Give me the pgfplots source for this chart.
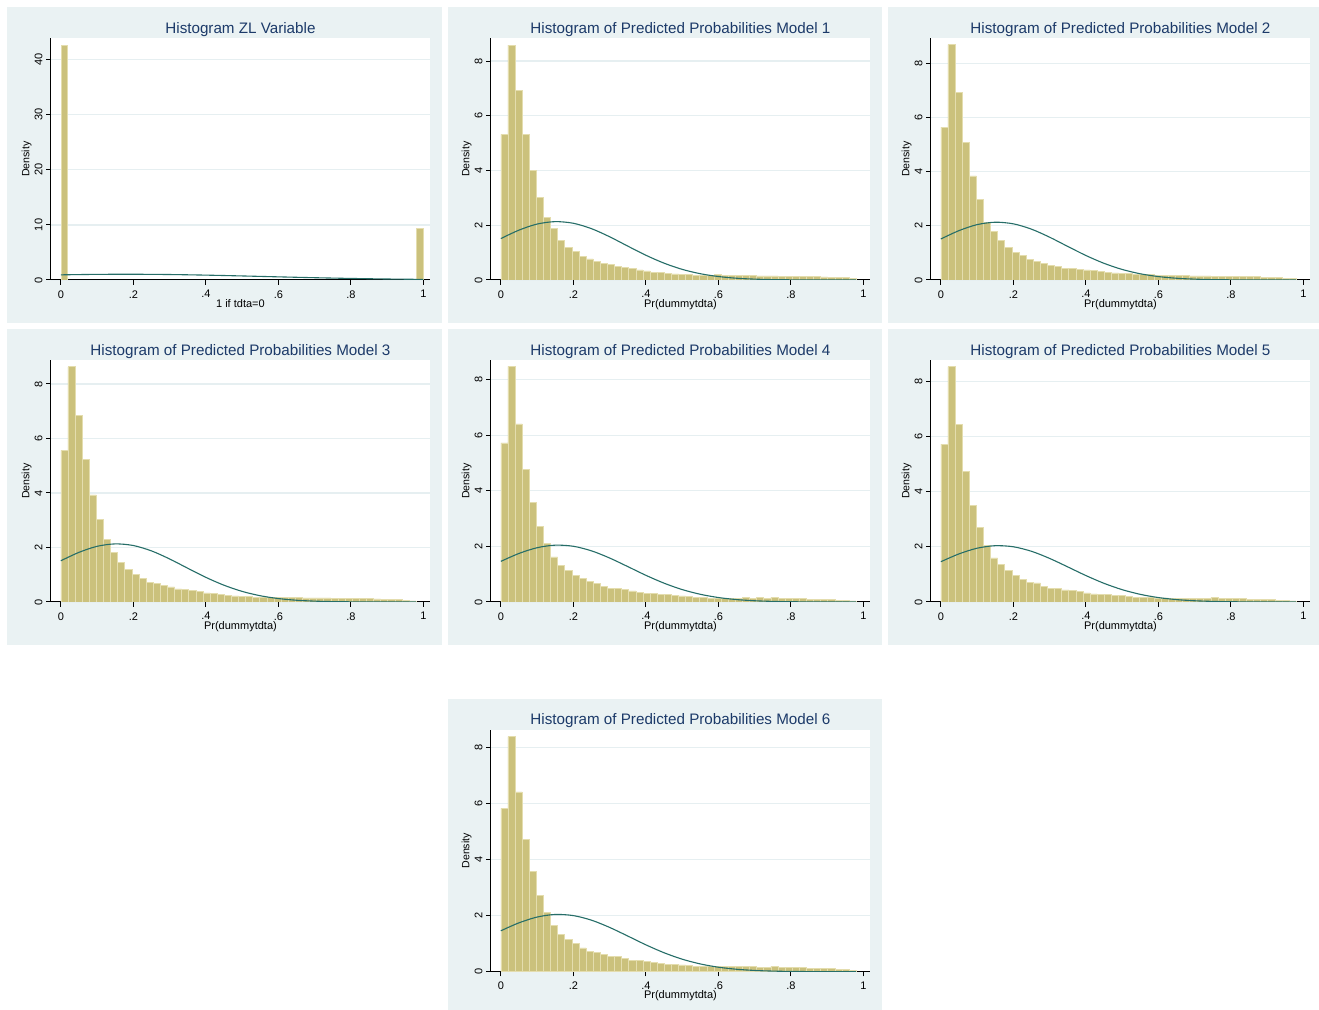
\documentclass[border=0pt]{standalone}
\usepackage{pgfplots}
\pgfplotsset{compat=1.18}
\usepackage{pgfplotstable}
\usepackage{fontspec}
\setmainfont{Liberation Sans}
\definecolor{bgc}{RGB}{234,242,243}
\definecolor{gridc}{RGB}{230,239,241}
\definecolor{barc}{RGB}{203,193,124}
\definecolor{baredge}{RGB}{228,221,174}
\definecolor{linec}{RGB}{38,110,104}
\definecolor{titlec}{RGB}{28,58,105}

\pgfplotstableread{
x      m1   m2   m3   m4   m5   m6
0      5.32 5.64 5.56 5.72 5.73 5.83
0.0196 8.58 8.69 8.63 8.47 8.54 8.39
0.0392 6.91 6.92 6.86 6.40 6.45 6.42
0.0588 5.32 5.09 5.23 4.77 4.74 4.73
0.0784 4.00 3.84 3.93 3.59 3.50 3.58
0.098  3.02 2.96 3.02 2.73 2.71 2.73
0.1176 2.30 2.11 2.30 2.12 2.05 2.12
0.1372 1.87 1.80 1.83 1.62 1.60 1.65
0.1568 1.46 1.45 1.44 1.32 1.35 1.34
0.1764 1.19 1.20 1.20 1.14 1.14 1.16
0.196  1.03 1.02 1.01 0.95 0.97 1.00
0.2156 0.85 0.90 0.88 0.85 0.82 0.85
0.2352 0.77 0.76 0.73 0.74 0.70 0.73
0.2548 0.68 0.67 0.67 0.67 0.69 0.69
0.2744 0.61 0.61 0.61 0.56 0.57 0.63
0.294  0.56 0.55 0.55 0.49 0.50 0.55
0.3136 0.50 0.50 0.48 0.49 0.50 0.53
0.3332 0.45 0.44 0.46 0.44 0.44 0.47
0.3528 0.41 0.43 0.42 0.40 0.42 0.41
0.3724 0.37 0.40 0.40 0.35 0.37 0.39
0.392  0.33 0.37 0.33 0.32 0.33 0.36
0.4116 0.29 0.34 0.32 0.30 0.29 0.32
0.4312 0.27 0.33 0.27 0.28 0.28 0.30
0.4508 0.24 0.29 0.24 0.26 0.27 0.27
0.4704 0.22 0.26 0.22 0.23 0.24 0.25
0.49   0.21 0.25 0.21 0.22 0.23 0.24
0.5096 0.20 0.23 0.20 0.19 0.21 0.21
0.5292 0.18 0.21 0.18 0.17 0.18 0.19
0.5488 0.18 0.21 0.18 0.16 0.17 0.18
0.5684 0.17 0.20 0.17 0.14 0.16 0.18
0.588  0.20 0.18 0.17 0.14 0.15 0.19
0.6076 0.18 0.17 0.16 0.13 0.15 0.19
0.6272 0.17 0.17 0.16 0.14 0.14 0.18
0.6468 0.17 0.16 0.16 0.14 0.14 0.18
0.6664 0.16 0.16 0.15 0.16 0.14 0.19
0.686  0.16 0.15 0.15 0.13 0.14 0.18
0.7056 0.15 0.15 0.15 0.16 0.13 0.15
0.7252 0.15 0.15 0.15 0.14 0.14 0.15
0.7448 0.15 0.14 0.14 0.17 0.16 0.19
0.7644 0.14 0.14 0.14 0.14 0.13 0.14
0.784  0.14 0.14 0.14 0.12 0.13 0.14
0.8036 0.14 0.13 0.13 0.13 0.12 0.14
0.8232 0.13 0.13 0.12 0.12 0.12 0.15
0.8428 0.13 0.12 0.12 0.10 0.10 0.12
0.8624 0.12 0.12 0.11 0.10 0.10 0.12
0.882  0.11 0.11 0.10 0.08 0.09 0.11
0.9016 0.10 0.10 0.09 0.08 0.08 0.11
0.9212 0.09 0.09 0.08 0.07 0.07 0.09
0.9408 0.08 0.07 0.06 0.06 0.06 0.08
0.9604 0.05 0.05 0.04 0.04 0.04 0.05
0.98   0    0    0    0    0    0
}\hist

\pgfplotsset{
  statapanel/.style={
    scale only axis, width=189.75pt, height=120.85pt,
    xmin=-0.028, xmax=1.0187, ymin=0,
    axis lines*=left,
    axis line style={-, line width=0.5pt, black},
    axis background/.style={fill=white},
    xtick={0,0.2,0.4,0.6,0.8,1}, xticklabels={0,.2,.4,.6,.8,1},
    tick align=outside, major tick length=2.35pt,
    tick style={black, line width=0.5pt},
    ymajorgrids, grid style={gridc, line width=0.6pt},
    /pgf/number format/assume math mode=true,
    xticklabel style={font=\fontsize{5.5}{6}\selectfont, anchor=north, inner sep=0pt, yshift=-2.65pt},
    yticklabel style={font=\fontsize{5.5}{6}\selectfont, inner sep=0pt, xshift=-1.85pt, rotate=90, anchor=base},
    every axis x label/.style={at={(axis description cs:0.5,0)}, anchor=base, yshift=-13.65pt, font=\fontsize{5.5}{6}\selectfont},
    every axis y label/.style={at={(axis description cs:0,0.5)}, xshift=-10.7pt, rotate=90, anchor=base, font=\fontsize{5.3}{6}\selectfont},
    every axis title/.style={at={(axis description cs:0.5,1)}, anchor=base, yshift=2.5pt, font=\fontsize{7.6}{8}\selectfont, color=titlec},
    ylabel={Density},
  },
  modelpanel/.style={statapanel, ytick={0,2,4,6,8}, yticklabels={0,2,4,6,8}, xlabel={Pr(dummytdta)}},
  histbar/.style={ybar interval, fill=barc, draw=baredge, line width=0.35pt},
  normline/.style={linec, line width=0.55pt, smooth, no marks},
}

\begin{document}
\begin{tikzpicture}
% panel backgrounds
\fill[bgc] (3.35pt,343.35pt) rectangle (220.85pt,501.35pt);
\fill[bgc] (223.85pt,343.35pt) rectangle (440.85pt,501.35pt);
\fill[bgc] (444pt,343.35pt) rectangle (659.5pt,501.35pt);
\fill[bgc] (3.35pt,182.35pt) rectangle (220.85pt,340.35pt);
\fill[bgc] (223.85pt,182.35pt) rectangle (440.85pt,340.35pt);
\fill[bgc] (444pt,182.35pt) rectangle (659.5pt,340.35pt);
\fill[bgc] (223.85pt,0pt) rectangle (440.85pt,155.7pt);

% ZL panel
\begin{axis}[statapanel, at={(25.35pt,365pt)}, anchor=south west,
  ymax=43.9, ytick={0,10,20,30,40}, yticklabels={0,10,20,30,40},
  title={Histogram ZL Variable}, xlabel={1 if tdta=0}]
\addplot[histbar] coordinates {(0,42.7) (0.0192,0)};
\addplot[histbar] coordinates {(0.9808,9.3) (1,0)};
\addplot[normline] coordinates {(0,0.934) (0.1,1.020) (0.2,1.040) (0.3,0.991) (0.4,0.882) (0.5,0.733) (0.6,0.569) (0.7,0.413) (0.8,0.280) (0.9,0.177) (1,0.105)};
\end{axis}

% Model 1
\begin{axis}[modelpanel, at={(245.35pt,365pt)}, anchor=south west, ymax=8.83,
  title={Histogram of Predicted Probabilities Model 1}]
\addplot[histbar] table[x=x,y=m1]{\hist};
\addplot[normline] coordinates {(0,1.513) (0.05,1.822) (0.1,2.043) (0.15,2.132) (0.2,2.072) (0.25,1.875) (0.3,1.579) (0.35,1.238) (0.4,0.904) (0.45,0.615) (0.5,0.389) (0.55,0.229) (0.6,0.126) (0.65,0.064) (0.7,0.031) (0.75,0.014) (0.8,0.006) (0.85,0.002) (0.9,0.001) (0.98,0.0002)};
\end{axis}

% Model 2
\begin{axis}[modelpanel, at={(465.35pt,365pt)}, anchor=south west, ymax=8.92,
  title={Histogram of Predicted Probabilities Model 2}]
\addplot[histbar] table[x=x,y=m2]{\hist};
\addplot[normline] coordinates {(0,1.513) (0.05,1.822) (0.1,2.043) (0.15,2.132) (0.2,2.072) (0.25,1.875) (0.3,1.579) (0.35,1.238) (0.4,0.904) (0.45,0.615) (0.5,0.389) (0.55,0.229) (0.6,0.126) (0.65,0.064) (0.7,0.031) (0.75,0.014) (0.8,0.006) (0.85,0.002) (0.9,0.001) (0.98,0.0002)};
\end{axis}

% Model 3
\begin{axis}[modelpanel, at={(25.35pt,204pt)}, anchor=south west, ymax=8.87,
  title={Histogram of Predicted Probabilities Model 3}]
\addplot[histbar] table[x=x,y=m3]{\hist};
\addplot[normline] coordinates {(0,1.513) (0.05,1.822) (0.1,2.043) (0.15,2.132) (0.2,2.072) (0.25,1.875) (0.3,1.579) (0.35,1.238) (0.4,0.904) (0.45,0.615) (0.5,0.389) (0.55,0.229) (0.6,0.126) (0.65,0.064) (0.7,0.031) (0.75,0.014) (0.8,0.006) (0.85,0.002) (0.9,0.001) (0.98,0.0002)};
\end{axis}

% Model 4
\begin{axis}[modelpanel, at={(245.35pt,204pt)}, anchor=south west, ymax=8.69,
  title={Histogram of Predicted Probabilities Model 4}]
\addplot[histbar] table[x=x,y=m4]{\hist};
\addplot[normline] coordinates {(0,1.461) (0.05,1.745) (0.1,1.951) (0.15,2.043) (0.2,2.003) (0.25,1.839) (0.3,1.581) (0.35,1.273) (0.4,0.959) (0.45,0.677) (0.5,0.447) (0.55,0.277) (0.6,0.160) (0.65,0.087) (0.7,0.044) (0.75,0.021) (0.8,0.009) (0.85,0.004) (0.9,0.0015) (0.98,0.0003)};
\end{axis}

% Model 5
\begin{axis}[modelpanel, at={(465.35pt,204pt)}, anchor=south west, ymax=8.77,
  title={Histogram of Predicted Probabilities Model 5}]
\addplot[histbar] table[x=x,y=m5]{\hist};
\addplot[normline] coordinates {(0,1.461) (0.05,1.745) (0.1,1.951) (0.15,2.043) (0.2,2.003) (0.25,1.839) (0.3,1.581) (0.35,1.273) (0.4,0.959) (0.45,0.677) (0.5,0.447) (0.55,0.277) (0.6,0.160) (0.65,0.087) (0.7,0.044) (0.75,0.021) (0.8,0.009) (0.85,0.004) (0.9,0.0015) (0.98,0.0003)};
\end{axis}

% Model 6
\begin{axis}[modelpanel, at={(245.35pt,19.15pt)}, anchor=south west, ymax=8.63,
  title={Histogram of Predicted Probabilities Model 6}]
\addplot[histbar] table[x=x,y=m6]{\hist};
\addplot[normline] coordinates {(0,1.461) (0.05,1.745) (0.1,1.951) (0.15,2.043) (0.2,2.003) (0.25,1.839) (0.3,1.581) (0.35,1.273) (0.4,0.959) (0.45,0.677) (0.5,0.447) (0.55,0.277) (0.6,0.160) (0.65,0.087) (0.7,0.044) (0.75,0.021) (0.8,0.009) (0.85,0.004) (0.9,0.0015) (0.98,0.0003)};
\end{axis}

\pgfresetboundingbox
\useasboundingbox (0pt,0pt) rectangle (659.5pt,505pt);
\end{tikzpicture}
\end{document}
